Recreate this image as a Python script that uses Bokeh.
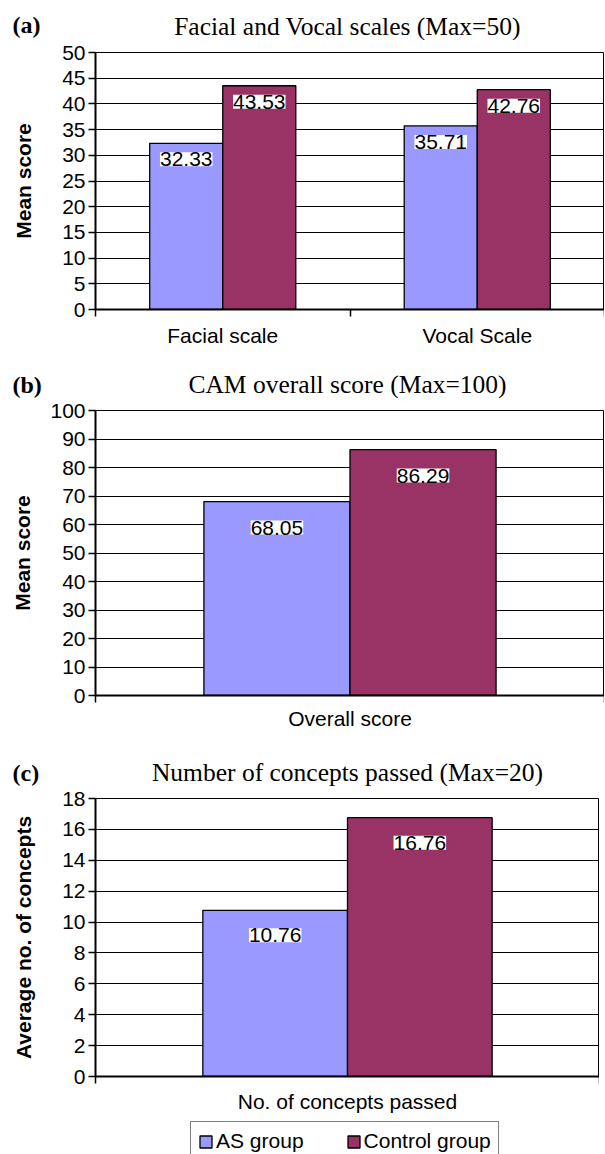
from bokeh.plotting import figure
from bokeh.models import (ColumnDataSource, Range1d, FixedTicker, LabelSet, Label,
                          Legend, LegendItem)
from bokeh.core.properties import value
from bokeh.layouts import column
from bokeh.transform import dodge
from bokeh.embed import file_html
from bokeh.resources import INLINE

# ---------------- data ----------------
groups = ["AS group", "Control group"]
group_colors = ["#9999FF", "#993366"]

a_categories = ["Facial scale", "Vocal Scale"]
a_as = [32.33, 35.71]
a_control = [43.53, 42.76]
a_ticks = [0, 5, 10, 15, 20, 25, 30, 35, 40, 45, 50]

b_categories = ["Overall score"]
b_as = [68.05]
b_control = [86.29]
b_ticks = [0, 10, 20, 30, 40, 50, 60, 70, 80, 90, 100]

c_categories = ["No. of concepts passed"]
c_as = [10.76]
c_control = [16.76]
c_ticks = [0, 2, 4, 6, 8, 10, 12, 14, 16, 18]

SANS = "Liberation Sans"
SERIF = "Liberation Serif"
FS = "21px"
BAR_W = 0.287
HALF = BAR_W / 2
PAGE_W = 604


def blank_fig(h):
    f = figure(title=None, frame_width=PAGE_W, frame_height=h,
               x_range=Range1d(0, PAGE_W), y_range=Range1d(0, h),
               x_axis_type=None, y_axis_type=None,
               output_backend="svg", toolbar_location=None,
               min_border=0, min_border_left=0, min_border_right=0,
               min_border_top=0, min_border_bottom=0)
    f.frame_align = False
    f.outline_line_color = None
    f.xgrid.visible = False
    f.ygrid.visible = False
    f.background_fill_color = "white"
    f.border_fill_color = "white"
    return f


def header(h, tag, title, tag_y, title_y, title_x):
    f = blank_fig(h)
    f.add_layout(Label(x=12, y=tag_y, x_units="screen", y_units="screen",
                       text=tag, text_font=SERIF, text_font_style="bold",
                       text_font_size="24px", text_color="black",
                       text_baseline="middle"))
    f.add_layout(Label(x=title_x, y=title_y, x_units="screen", y_units="screen",
                       text=title, text_font=SERIF, text_font_size="25.5px",
                       text_color="black", text_align="center",
                       text_baseline="middle"))
    return f


def make_panel(cats, as_vals, ctrl_vals, ticks, ylabel,
               frame_w, frame_h, top, bottom, label_off, ylabel_standoff,
               xlabel_standoff):
    n = len(cats)
    centers = [i + 0.5 for i in range(n)]
    bounds = [i for i in range(n + 1)]
    src = ColumnDataSource(dict(
        x=centers, as_v=as_vals, ctrl_v=ctrl_vals,
        as_t=["%.2f" % v for v in as_vals],
        ctrl_t=["%.2f" % v for v in ctrl_vals],
    ))
    p = figure(title=None, frame_width=frame_w, frame_height=frame_h,
               x_range=Range1d(0, n), y_range=Range1d(ticks[0], ticks[-1]),
               output_backend="svg", toolbar_location=None,
               min_border_left=95, min_border_right=0,
               min_border_top=top, min_border_bottom=bottom)
    p.background_fill_color = "white"
    p.border_fill_color = "white"
    p.outline_line_color = "black"
    p.outline_line_width = 1

    p.vbar(x=dodge("x", -HALF, range=p.x_range), top="as_v", width=BAR_W,
           bottom=0, source=src, fill_color=group_colors[0],
           line_color="black", line_width=1.3)
    p.vbar(x=dodge("x", HALF, range=p.x_range), top="ctrl_v", width=BAR_W,
           bottom=0, source=src, fill_color=group_colors[1],
           line_color="black", line_width=1.3)

    for col, txt, off in (("as_v", "as_t", -HALF), ("ctrl_v", "ctrl_t", HALF)):
        p.add_layout(LabelSet(x=dodge("x", off, range=p.x_range), y=col, text=txt,
                              source=src, y_offset=label_off,
                              text_align="center", text_baseline="middle",
                              text_font=value(SANS), text_font_size=value(FS),
                              text_color="black",
                              background_fill_color="white"))

    p.xgrid.visible = False
    p.ygrid.grid_line_color = "black"
    p.ygrid.grid_line_width = 1
    p.ygrid.ticker = FixedTicker(ticks=ticks)

    ya = p.yaxis[0]
    ya.ticker = FixedTicker(ticks=ticks)
    ya.axis_line_color = "black"
    ya.axis_line_width = 2
    ya.major_tick_in = 0
    ya.major_tick_out = 7
    ya.major_tick_line_color = "black"
    ya.major_tick_line_width = 1.5
    ya.minor_tick_out = 0
    ya.minor_tick_in = 0
    ya.major_label_standoff = 3
    ya.major_label_text_font = SANS
    ya.major_label_text_font_size = FS
    ya.major_label_text_color = "black"
    ya.axis_label = ylabel
    ya.axis_label_text_font = SANS
    ya.axis_label_text_font_style = "bold"
    ya.axis_label_text_font_size = FS
    ya.axis_label_text_color = "black"
    ya.axis_label_standoff = ylabel_standoff

    xa = p.xaxis[0]
    xa.ticker = FixedTicker(ticks=centers, minor_ticks=bounds)
    xa.major_label_overrides = {c: cat for c, cat in zip(centers, cats)}
    xa.axis_line_color = "black"
    xa.axis_line_width = 2
    xa.major_tick_in = 0
    xa.major_tick_out = 0
    xa.minor_tick_in = 0
    xa.minor_tick_out = 7
    xa.minor_tick_line_color = "black"
    xa.minor_tick_line_width = 1.5
    xa.major_label_standoff = xlabel_standoff
    xa.major_label_text_font = SANS
    xa.major_label_text_font_size = FS
    xa.major_label_text_color = "black"
    return p


# header heights / label centres (screen px from header bottom)
ha = header(40, "(a)", "Facial and Vocal scales (Max=50)", 16, 14.5, 347)
pa = make_panel(a_categories, a_as, a_control, a_ticks, "Mean score",
                509, 257, 12, 40, -16, 24, 7)
hb = header(49, "(b)", "CAM overall score (Max=100)", 13.5, 14.5, 347)
pb = make_panel(b_categories, b_as, b_control, b_ticks, "Mean score",
                509, 285, 12, 36, -26, 13, 4)
hc = header(54, "(c)", "Number of concepts passed (Max=20)", 13.5, 14.5, 347)
pc = make_panel(c_categories, c_as, c_control, c_ticks,
                "Average no. of concepts",
                504, 278, 12, 38, -25, 24, 6)

# legend strip (legend proxies drawn off-frame)
foot = blank_fig(40)
leg_as = foot.vbar(x=-50, top=0, bottom=0, width=1,
                   fill_color=group_colors[0], line_color="black", line_width=1.3)
leg_ct = foot.vbar(x=-50, top=0, bottom=0, width=1,
                   fill_color=group_colors[1], line_color="black", line_width=1.3)
legend = Legend(items=[LegendItem(label=groups[0], renderers=[leg_as]),
                       LegendItem(label=groups[1], renderers=[leg_ct])],
                orientation="horizontal", location=(190, -6),
                glyph_width=15, glyph_height=15, label_standoff=3, spacing=42,
                padding=7, margin=0,
                label_text_font=SANS, label_text_font_size=FS,
                label_text_color="black",
                border_line_color="black", border_line_width=1,
                background_fill_color="white", background_fill_alpha=1)
foot.add_layout(legend)

layout = column(ha, pa, hb, pb, hc, pc, foot, spacing=0)

open("out.html", "w").write(file_html(layout, INLINE))
